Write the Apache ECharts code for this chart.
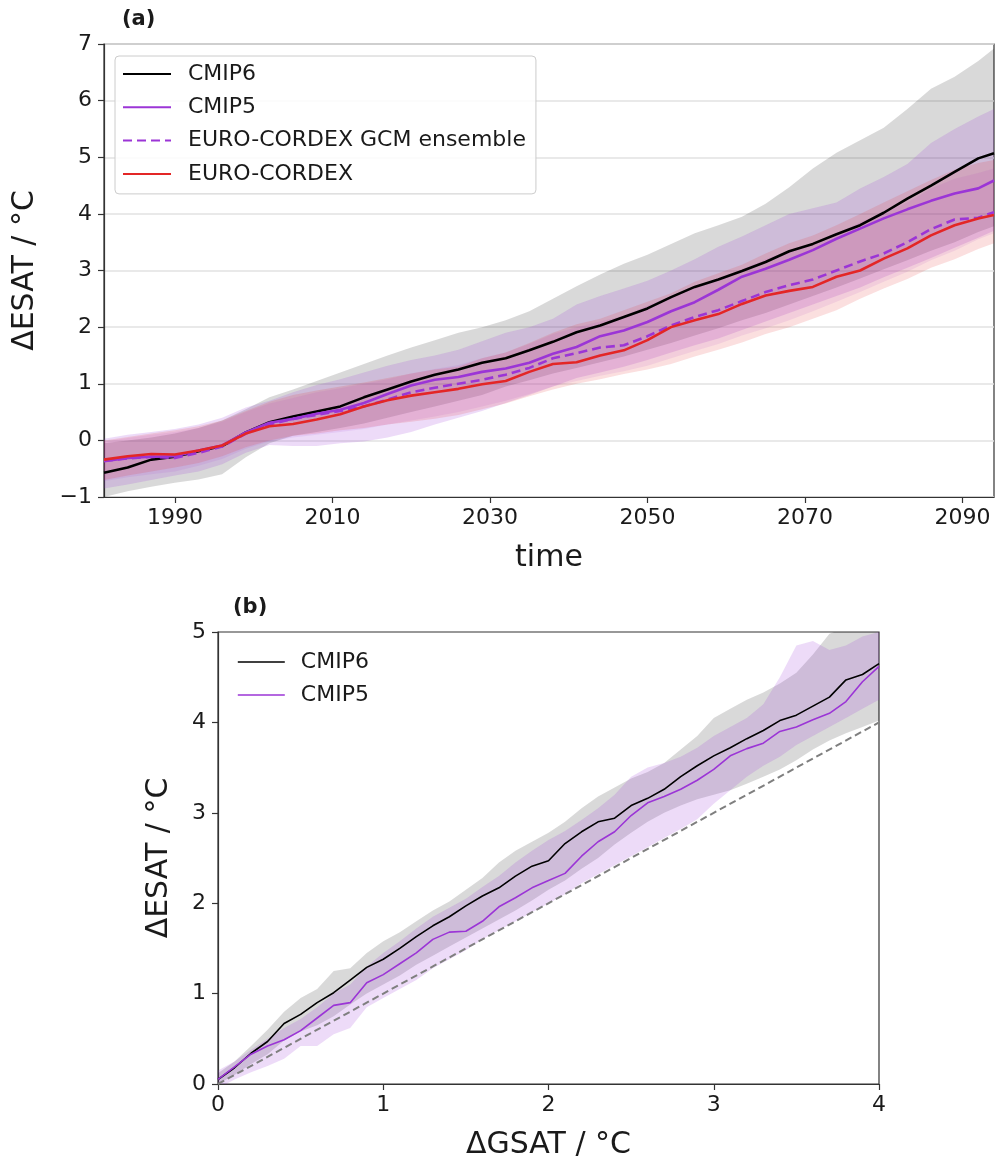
<!DOCTYPE html>
<html>
<head>
<meta charset="utf-8">
<script src="https://cdn.jsdelivr.net/npm/echarts@6/dist/echarts.min.js"></script>
<style>html,body{margin:0;padding:0;background:#fff}#c{width:995px;height:1164px}</style>
</head>
<body>
<div id="c"></div>
<script>
// ---------- Panel (a): time series ----------
const years = [1981,1984,1987,1990,1993,1996,1999,2002,2005,2008,2011,2014,2017,2020,2023,2026,2029,2032,2035,2038,2041,2044,2047,2050,2053,2056,2059,2062,2065,2068,2071,2074,2077,2080,2083,2086,2089,2092,2094];
const cmip6 = [-0.57,-0.48,-0.34,-0.29,-0.19,-0.10,0.14,0.32,0.42,0.51,0.60,0.76,0.90,1.04,1.16,1.25,1.37,1.45,1.59,1.74,1.91,2.03,2.18,2.33,2.53,2.71,2.84,2.99,3.15,3.34,3.47,3.64,3.80,4.02,4.27,4.50,4.74,4.98,5.07];
const cmip5 = [-0.37,-0.31,-0.29,-0.28,-0.18,-0.09,0.14,0.31,0.38,0.47,0.54,0.66,0.82,0.97,1.07,1.12,1.21,1.27,1.37,1.53,1.65,1.84,1.94,2.09,2.28,2.44,2.66,2.89,3.03,3.19,3.36,3.56,3.74,3.92,4.08,4.23,4.36,4.45,4.59];
const gcmEns = [-0.36,-0.32,-0.29,-0.31,-0.22,-0.11,0.12,0.28,0.38,0.45,0.52,0.60,0.72,0.85,0.93,1.00,1.07,1.16,1.28,1.45,1.54,1.64,1.68,1.84,2.03,2.18,2.30,2.46,2.62,2.74,2.84,3.00,3.16,3.30,3.50,3.73,3.90,3.93,4.03];
const cordex = [-0.34,-0.28,-0.24,-0.25,-0.18,-0.09,0.12,0.25,0.29,0.37,0.46,0.60,0.71,0.79,0.85,0.91,0.99,1.05,1.21,1.35,1.38,1.50,1.59,1.77,2.00,2.12,2.23,2.41,2.56,2.64,2.71,2.89,3.00,3.21,3.39,3.62,3.80,3.92,3.98];

const cmip6Hi = [-0.05,0.00,0.05,0.12,0.22,0.35,0.55,0.76,0.90,1.05,1.20,1.35,1.50,1.64,1.77,1.90,2.00,2.12,2.28,2.50,2.72,2.93,3.12,3.28,3.47,3.66,3.80,3.95,4.18,4.47,4.80,5.08,5.30,5.52,5.85,6.21,6.42,6.70,6.92];
const cmip6Lo = [-1.00,-0.90,-0.82,-0.75,-0.69,-0.60,-0.30,-0.05,0.08,0.15,0.22,0.30,0.40,0.50,0.60,0.70,0.80,0.95,1.06,1.18,1.28,1.38,1.48,1.60,1.72,1.85,1.98,2.12,2.25,2.40,2.55,2.70,2.86,3.02,3.18,3.35,3.50,3.68,3.78];
const cmip5Hi = [0.03,0.10,0.15,0.20,0.28,0.40,0.58,0.70,0.85,0.98,1.08,1.20,1.32,1.42,1.50,1.60,1.75,1.90,2.00,2.15,2.40,2.55,2.68,2.82,3.00,3.20,3.42,3.60,3.80,4.00,4.10,4.20,4.45,4.65,4.88,5.25,5.50,5.72,5.85];
const cmip5Lo = [-0.85,-0.78,-0.70,-0.62,-0.55,-0.42,-0.22,-0.08,-0.10,-0.10,-0.05,-0.02,0.05,0.15,0.28,0.40,0.52,0.66,0.80,0.95,1.10,1.20,1.30,1.42,1.55,1.68,1.80,1.95,2.10,2.25,2.40,2.55,2.70,2.88,3.05,3.22,3.40,3.58,3.70];
const gcmEnsHi = [-0.02,0.04,0.10,0.15,0.22,0.33,0.50,0.65,0.75,0.85,0.92,1.00,1.08,1.18,1.26,1.33,1.45,1.55,1.70,1.88,2.00,2.10,2.20,2.38,2.55,2.72,2.85,3.02,3.20,3.35,3.48,3.65,3.85,4.02,4.20,4.45,4.62,4.72,4.80];
const gcmEnsLo = [-0.72,-0.65,-0.60,-0.55,-0.45,-0.33,-0.15,-0.02,0.05,0.10,0.15,0.20,0.28,0.35,0.42,0.50,0.60,0.70,0.82,0.95,1.05,1.14,1.22,1.32,1.45,1.58,1.70,1.85,1.98,2.12,2.28,2.45,2.62,2.80,2.98,3.18,3.35,3.55,3.66];
const cordexHi = [0.00,0.06,0.12,0.18,0.25,0.35,0.52,0.68,0.80,0.88,0.95,1.02,1.10,1.18,1.25,1.30,1.45,1.55,1.72,1.90,2.05,2.15,2.30,2.45,2.60,2.80,2.95,3.10,3.30,3.48,3.62,3.80,4.00,4.20,4.40,4.60,4.78,4.90,4.95];
const cordexLo = [-0.70,-0.62,-0.55,-0.48,-0.40,-0.28,-0.12,0.00,0.08,0.12,0.18,0.22,0.28,0.33,0.38,0.45,0.55,0.65,0.78,0.90,1.00,1.08,1.17,1.25,1.35,1.48,1.60,1.73,1.88,2.00,2.15,2.30,2.50,2.68,2.85,3.05,3.20,3.38,3.48];

const yearTicks = [1990,2010,2030,2050,2070,2090];

// ---------- Panel (b): scaling with GSAT ----------
const gsat = [0.0,0.1,0.2,0.3,0.4,0.5,0.6,0.7,0.8,0.9,1.0,1.1,1.2,1.3,1.4,1.5,1.6,1.7,1.8,1.9,2.0,2.1,2.2,2.3,2.4,2.5,2.6,2.7,2.8,2.9,3.0,3.1,3.2,3.3,3.4,3.5,3.6,3.7,3.8,3.9,4.0];
const esat6 = [0.05,0.18,0.34,0.47,0.67,0.77,0.90,1.01,1.15,1.29,1.38,1.50,1.63,1.75,1.85,1.97,2.08,2.17,2.30,2.41,2.47,2.66,2.79,2.90,2.94,3.08,3.16,3.26,3.40,3.52,3.63,3.72,3.82,3.91,4.02,4.08,4.18,4.28,4.47,4.53,4.65];
const esat5 = [0.05,0.19,0.33,0.42,0.49,0.59,0.73,0.87,0.90,1.12,1.21,1.33,1.45,1.60,1.68,1.69,1.80,1.96,2.06,2.17,2.25,2.33,2.52,2.68,2.79,2.97,3.11,3.18,3.26,3.36,3.48,3.63,3.71,3.77,3.90,3.95,4.03,4.10,4.23,4.45,4.62];
const esat6Hi = [0.12,0.25,0.42,0.60,0.80,0.95,1.05,1.25,1.28,1.45,1.58,1.68,1.80,1.92,2.02,2.15,2.28,2.45,2.58,2.68,2.78,2.90,3.05,3.18,3.28,3.38,3.45,3.55,3.70,3.85,4.05,4.15,4.25,4.33,4.43,4.55,4.75,4.98,5.05,5.12,5.20];
const esat6Lo = [0.00,0.10,0.22,0.33,0.48,0.58,0.65,0.75,0.88,1.00,1.10,1.20,1.32,1.42,1.52,1.62,1.72,1.82,1.92,2.03,2.15,2.25,2.38,2.50,2.65,2.78,2.90,3.00,3.08,3.15,3.20,3.25,3.32,3.40,3.48,3.58,3.70,3.80,3.88,3.95,4.02];
const esat5Hi = [0.15,0.25,0.38,0.50,0.62,0.72,0.85,1.00,1.10,1.30,1.45,1.58,1.72,1.85,1.95,2.05,2.18,2.30,2.45,2.58,2.70,2.80,2.92,3.05,3.20,3.40,3.50,3.55,3.62,3.72,3.85,3.95,4.05,4.20,4.50,4.85,4.90,4.80,4.85,4.95,5.00];
const esat5Lo = [-0.05,0.05,0.13,0.20,0.28,0.42,0.42,0.55,0.62,0.85,0.95,1.05,1.15,1.28,1.38,1.48,1.60,1.70,1.80,1.90,2.00,2.10,2.22,2.32,2.42,2.52,2.62,2.72,2.82,2.93,3.10,3.25,3.40,3.52,3.62,3.75,3.85,3.95,4.05,4.15,4.25];
const oneToOne = [[0,0],[4,4]];

// ---------- styles ----------
const FONT = 'DejaVu Sans';
const TXT = '#1a1a1a';
const AX = '#333333';
const PURPLE = '#9b35d6';
const RED = '#e32626';
const FS = 22;

function band(xs, lo, hi, fill, gi) {
  return {
    type: 'custom', xAxisIndex: gi, yAxisIndex: gi, silent: true, clip: true, z: 1,
    data: [[xs[0], lo[0]]],
    renderItem: function (params, api) {
      if (params.dataIndex !== 0) return null;
      const pts = [];
      for (let i = 0; i < xs.length; i++) pts.push(api.coord([xs[i], hi[i]]));
      for (let i = xs.length - 1; i >= 0; i--) pts.push(api.coord([xs[i], lo[i]]));
      return { type: 'polygon', shape: { points: pts }, style: { fill: fill } };
    }
  };
}
function line(name, xs, ys, color, width, gi, dash) {
  return {
    type: 'line', name: name, xAxisIndex: gi, yAxisIndex: gi, symbol: 'none', z: 3,
    data: xs.map((x, i) => [x, ys[i]]),
    lineStyle: { color: color, width: width, type: dash || 'solid' },
    itemStyle: { color: color }, emphasis: { disabled: true }
  };
}
const minus = v => (v < 0 ? '\u2212' + Math.abs(v) : String(v));

const axisCommon = {
  axisLine: { show: true, onZero: false, lineStyle: { color: AX, width: 1.2 } },
  axisTick: { show: true, length: 6, lineStyle: { color: AX, width: 1.2 } },
  axisLabel: { color: TXT, fontSize: FS, fontFamily: FONT },
  nameTextStyle: { color: TXT, fontSize: 30, fontFamily: FONT }
};

const option = {
  backgroundColor: '#fff',
  animation: false,
  grid: [
    { left: 104, top: 44, width: 890, height: 453, show: true, borderColor: AX, borderWidth: 1.2, backgroundColor: 'transparent' },
    { left: 218, top: 632, width: 661, height: 452, show: true, borderColor: AX, borderWidth: 1.2, backgroundColor: 'transparent' }
  ],
  xAxis: [
    Object.assign({}, axisCommon, {
      gridIndex: 0, type: 'value', min: 1981, max: 2094,
      name: 'time', nameLocation: 'middle', nameGap: 46,
      splitLine: { show: false },
      axisTick: Object.assign({}, axisCommon.axisTick, { customValues: yearTicks }),
      axisLabel: Object.assign({}, axisCommon.axisLabel, { customValues: yearTicks, margin: 10, formatter: v => String(v) })
    }),
    Object.assign({}, axisCommon, {
      gridIndex: 1, type: 'value', min: 0, max: 4, interval: 1,
      name: '\u0394GSAT / \u00b0C', nameLocation: 'middle', nameGap: 46,
      splitLine: { show: false },
      axisLabel: Object.assign({}, axisCommon.axisLabel, { margin: 10 })
    })
  ],
  yAxis: [
    Object.assign({}, axisCommon, {
      gridIndex: 0, type: 'value', min: -1, max: 7, interval: 1,
      name: '\u0394ESAT / \u00b0C', nameLocation: 'middle', nameGap: 64,
      splitLine: { show: true, lineStyle: { color: '#e2e2e2', width: 1.5 } },
      axisLabel: Object.assign({}, axisCommon.axisLabel, { margin: 12, formatter: minus })
    }),
    Object.assign({}, axisCommon, {
      gridIndex: 1, type: 'value', min: 0, max: 5, interval: 1,
      name: '\u0394ESAT / \u00b0C', nameLocation: 'middle', nameGap: 44,
      splitLine: { show: false },
      axisLabel: Object.assign({}, axisCommon.axisLabel, { margin: 12 })
    })
  ],
  legend: [
    {
      left: 115, top: 56, orient: 'vertical',
      padding: [7, 10, 9, 7], itemGap: 11.3, itemWidth: 48, itemHeight: 14,
      itemStyle: { opacity: 0 },
      backgroundColor: 'rgba(255,255,255,0.85)', borderColor: '#cccccc', borderWidth: 1, borderRadius: 4,
      textStyle: { color: TXT, fontSize: FS, fontFamily: FONT, lineHeight: 22, padding: [0, 0, 0, 12] },
      data: ['CMIP6', 'CMIP5', 'EURO-CORDEX GCM ensemble', 'EURO-CORDEX']
    },
    {
      left: 237, top: 651, orient: 'vertical',
      padding: 0, itemGap: 11, itemWidth: 47, itemHeight: 14,
      itemStyle: { opacity: 0 },
      textStyle: { color: TXT, fontSize: FS, fontFamily: FONT, lineHeight: 22, padding: [0, 0, 0, 11] },
      data: [
        { name: 'CMIP6', lineStyle: { color: '#000', width: 1.6 } },
        { name: 'CMIP5', lineStyle: { color: PURPLE, width: 1.6 } }
      ]
    }
  ],
  graphic: [
    { type: 'text', left: 122, top: 9, style: { text: '(a)', font: 'bold 21px "DejaVu Sans"', fill: TXT } },
    { type: 'text', left: 233, top: 597, style: { text: '(b)', font: 'bold 21px "DejaVu Sans"', fill: TXT } }
  ],
  series: [
    band(years, cmip6Lo, cmip6Hi, 'rgba(0,0,0,0.15)', 0),
    band(years, cmip5Lo, cmip5Hi, 'rgba(155,53,214,0.18)', 0),
    band(years, gcmEnsLo, gcmEnsHi, 'rgba(155,53,214,0.10)', 0),
    band(years, cordexLo, cordexHi, 'rgba(227,38,38,0.15)', 0),
    line('CMIP6', years, cmip6, '#000000', 2.6, 0),
    line('CMIP5', years, cmip5, PURPLE, 2.6, 0),
    line('EURO-CORDEX GCM ensemble', years, gcmEns, PURPLE, 2.6, 0, [9, 5]),
    line('EURO-CORDEX', years, cordex, RED, 2.6, 0),

    band(gsat, esat6Lo, esat6Hi, 'rgba(0,0,0,0.15)', 1),
    band(gsat, esat5Lo, esat5Hi, 'rgba(155,53,214,0.18)', 1),
    {
      type: 'line', xAxisIndex: 1, yAxisIndex: 1, symbol: 'none', z: 2, silent: true,
      data: oneToOne, lineStyle: { color: '#7f7f7f', width: 2, type: [7, 4] }
    },
    line('CMIP6', gsat, esat6, '#000000', 1.6, 1),
    line('CMIP5', gsat, esat5, PURPLE, 1.6, 1)
  ]
};

const chart = echarts.init(document.getElementById('c'), null, { renderer: 'canvas' });
chart.setOption(option);
</script>
</body>
</html>
